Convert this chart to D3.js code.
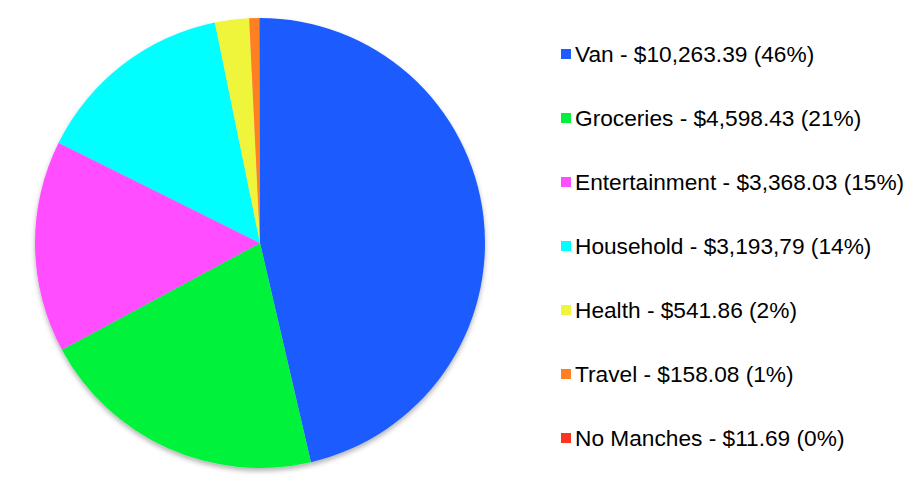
<!DOCTYPE html>
<html>
<head>
<meta charset="utf-8">
<style>
  body { margin: 0; background: #fff; }
  .legend text { font-family: "Liberation Sans", Arial, sans-serif; font-size: 22.7px; fill: #000; }
</style>
</head>
<body>
<svg id="chart" width="910" height="492"></svg>
<script src="https://cdn.jsdelivr.net/npm/d3@7"></script>
<script>
// data
var categories = ["Van", "Groceries", "Entertainment", "Household", "Health", "Travel", "No Manches"];
var amounts = [10263.39, 4598.43, 3368.03, 3193.79, 541.86, 158.08, 11.69];
var amountLabels = ["$10,263.39", "$4,598.43", "$3,368.03", "$3,193,79", "$541.86", "$158.08", "$11.69"];
var percentLabels = ["46%", "21%", "15%", "14%", "2%", "1%", "0%"];
var colors = ["#1f5cff", "#00f23a", "#ff4dff", "#00ffff", "#eef53a", "#ff8022", "#ff3322"];

var svg = d3.select("#chart"),
    cx = 260, cy = 243, radius = 225;

var defs = svg.append("defs");
var f = defs.append("filter").attr("id", "shadow")
    .attr("x", "-10%").attr("y", "-10%").attr("width", "120%").attr("height", "120%");
f.append("feDropShadow")
    .attr("dx", 0).attr("dy", 3)
    .attr("stdDeviation", 2.5)
    .attr("flood-color", "#000")
    .attr("flood-opacity", 0.3);

var data = categories.map(function(c, i) { return {name: c, value: amounts[i], i: i}; });

var pie = d3.pie().sort(null).value(function(d) { return d.value; });
var arc = d3.arc().innerRadius(0).outerRadius(radius);

var g = svg.append("g")
    .attr("transform", "translate(" + cx + "," + cy + ")")
    .attr("filter", "url(#shadow)");

g.selectAll("path")
    .data(pie(data))
    .enter().append("path")
    .attr("d", arc)
    .attr("fill", function(d) { return colors[d.data.i]; });

// legend
var legendY = d3.scalePoint().domain(categories).range([62, 446]);

var lg = svg.append("g").attr("class", "legend");
var row = lg.selectAll("g")
    .data(data)
    .enter().append("g")
    .attr("transform", function(d) { return "translate(561," + legendY(d.name) + ")"; });

row.append("rect")
    .attr("x", 0).attr("y", -13)
    .attr("width", 10).attr("height", 10)
    .attr("fill", function(d) { return colors[d.i]; });

row.append("text")
    .attr("x", 14).attr("y", 0)
    .text(function(d) { return d.name + " - " + amountLabels[d.i] + " (" + percentLabels[d.i] + ")"; });
</script>
</body>
</html>
